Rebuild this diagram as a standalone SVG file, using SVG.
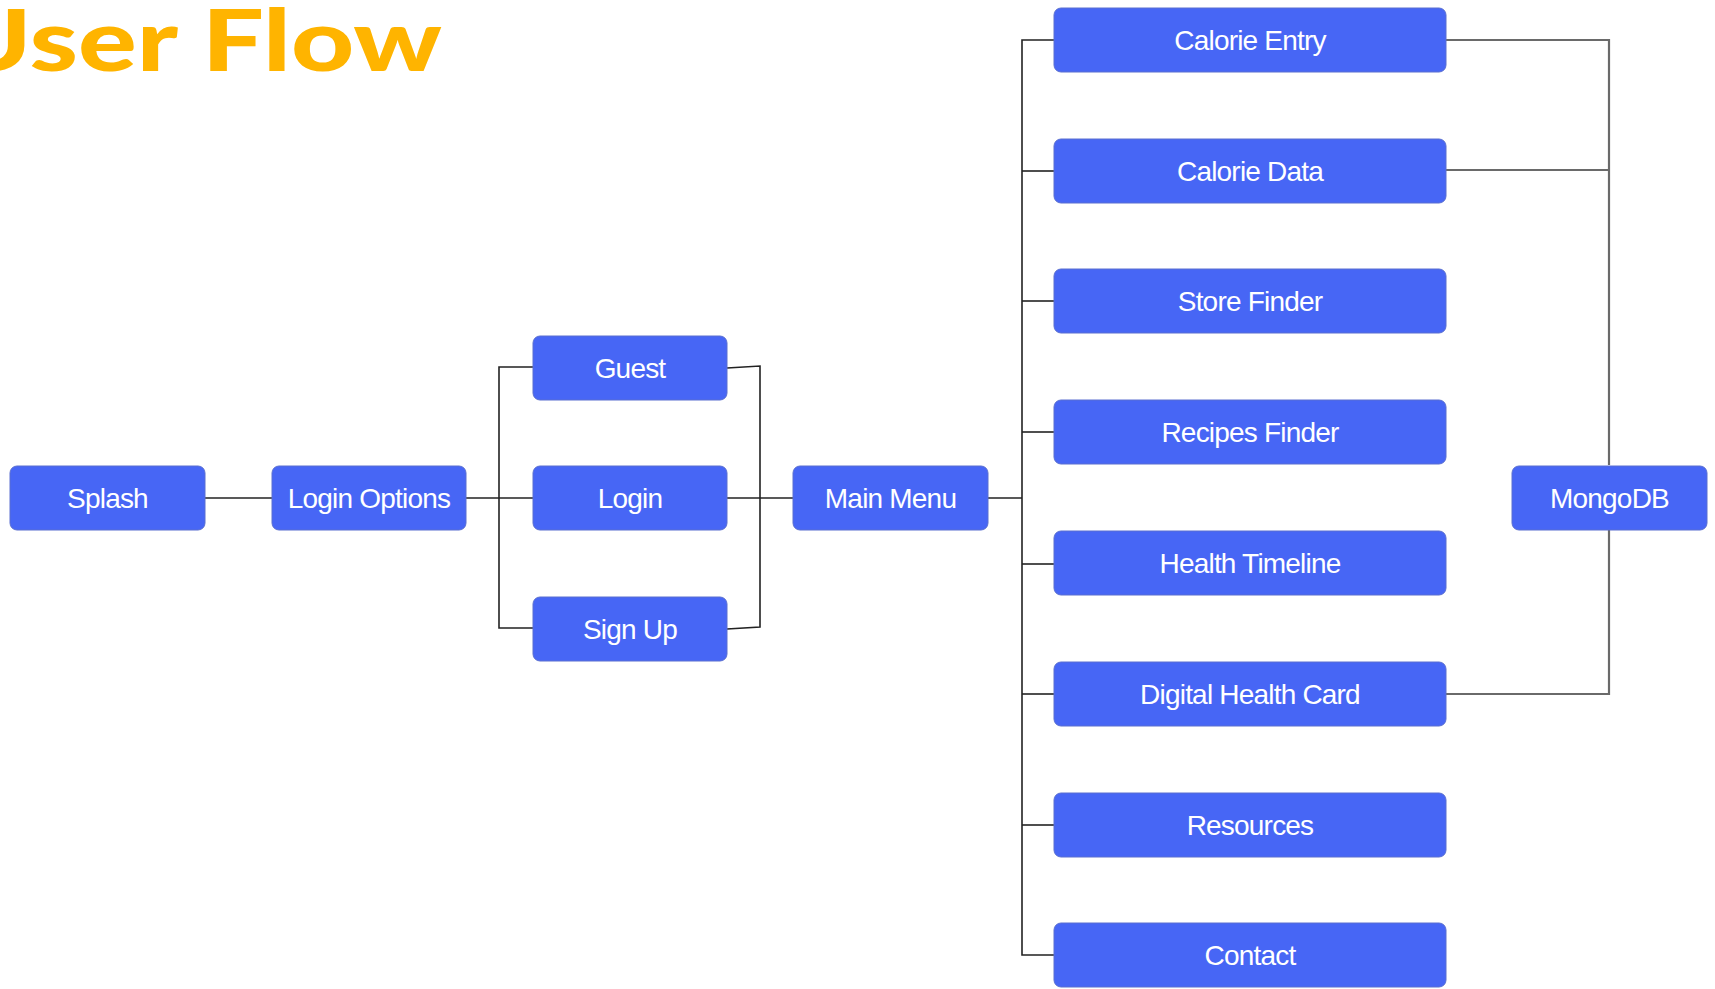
<svg xmlns="http://www.w3.org/2000/svg" width="1715" height="989" viewBox="0 0 1715 989">
  <style>
    .node rect { fill: #4766f5; stroke: #5a6fd0; stroke-width: 1; }
    .node text { fill: #ffffff; font-family: "Liberation Sans", Arial, Helvetica, sans-serif; font-size: 28px; letter-spacing: -0.8px; text-anchor: middle; }
    .conn { fill: none; stroke: #222222; stroke-width: 1.6; }
    .db { fill: none; stroke: #6a6a6a; stroke-width: 2.2; }
    .title { fill: #ffb400; font-family: Lato, "Open Sans", sans-serif; font-weight: 900; font-size: 86px; }
  </style>
  <rect width="1715" height="989" fill="#ffffff"/>
  <text class="title" x="-50" y="71" textLength="492" lengthAdjust="spacingAndGlyphs">User Flow</text>

  <g id="connectors">
    <path class="conn" d="M205 498 H272"/>
    <path class="conn" d="M466 498 H533"/>
    <path class="conn" d="M533 367 H499 V628 H533"/>
    <path class="conn" d="M727 368 L760 366 V627 L727 629"/>
    <path class="conn" d="M727 498 H793"/>
    <path class="conn" d="M988 498 H1022"/>
    <path class="conn" d="M1054 40 H1022 V955 H1054"/>
    <path class="conn" d="M1022 171 H1054"/>
    <path class="conn" d="M1022 301 H1054"/>
    <path class="conn" d="M1022 432 H1054"/>
    <path class="conn" d="M1022 564 H1054"/>
    <path class="conn" d="M1022 694 H1054"/>
    <path class="conn" d="M1022 825 H1054"/>
    <path class="db" d="M1446 40 H1609 V465"/>
    <path class="db" d="M1446 170 H1609"/>
    <path class="db" d="M1446 694 H1609 V530"/>
  </g>

  <g id="splash" class="node"><rect x="10" y="466" width="195" height="64" rx="7"/><text x="107.5" y="508">Splash</text></g>
  <g id="login-options" class="node"><rect x="272" y="466" width="194" height="64" rx="7"/><text x="369" y="508">Login Options</text></g>
  <g id="guest" class="node"><rect x="533" y="336" width="194" height="64" rx="7"/><text x="630" y="378">Guest</text></g>
  <g id="login" class="node"><rect x="533" y="466" width="194" height="64" rx="7"/><text x="630" y="508">Login</text></g>
  <g id="sign-up" class="node"><rect x="533" y="597" width="194" height="64" rx="7"/><text x="630" y="639">Sign Up</text></g>
  <g id="main-menu" class="node"><rect x="793" y="466" width="195" height="64" rx="7"/><text x="890.5" y="508">Main Menu</text></g>

  <g id="calorie-entry" class="node"><rect x="1054" y="8" width="392" height="64" rx="7"/><text x="1250" y="50">Calorie Entry</text></g>
  <g id="calorie-data" class="node"><rect x="1054" y="139" width="392" height="64" rx="7"/><text x="1250" y="181">Calorie Data</text></g>
  <g id="store-finder" class="node"><rect x="1054" y="269" width="392" height="64" rx="7"/><text x="1250" y="311">Store Finder</text></g>
  <g id="recipes-finder" class="node"><rect x="1054" y="400" width="392" height="64" rx="7"/><text x="1250" y="442">Recipes Finder</text></g>
  <g id="health-timeline" class="node"><rect x="1054" y="531" width="392" height="64" rx="7"/><text x="1250" y="573">Health Timeline</text></g>
  <g id="digital-health-card" class="node"><rect x="1054" y="662" width="392" height="64" rx="7"/><text x="1250" y="704">Digital Health Card</text></g>
  <g id="resources" class="node"><rect x="1054" y="793" width="392" height="64" rx="7"/><text x="1250" y="835">Resources</text></g>
  <g id="contact" class="node"><rect x="1054" y="923" width="392" height="64" rx="7"/><text x="1250" y="965">Contact</text></g>

  <g id="mongodb" class="node"><rect x="1512" y="466" width="195" height="64" rx="7"/><text x="1609.5" y="508">MongoDB</text></g>
</svg>
